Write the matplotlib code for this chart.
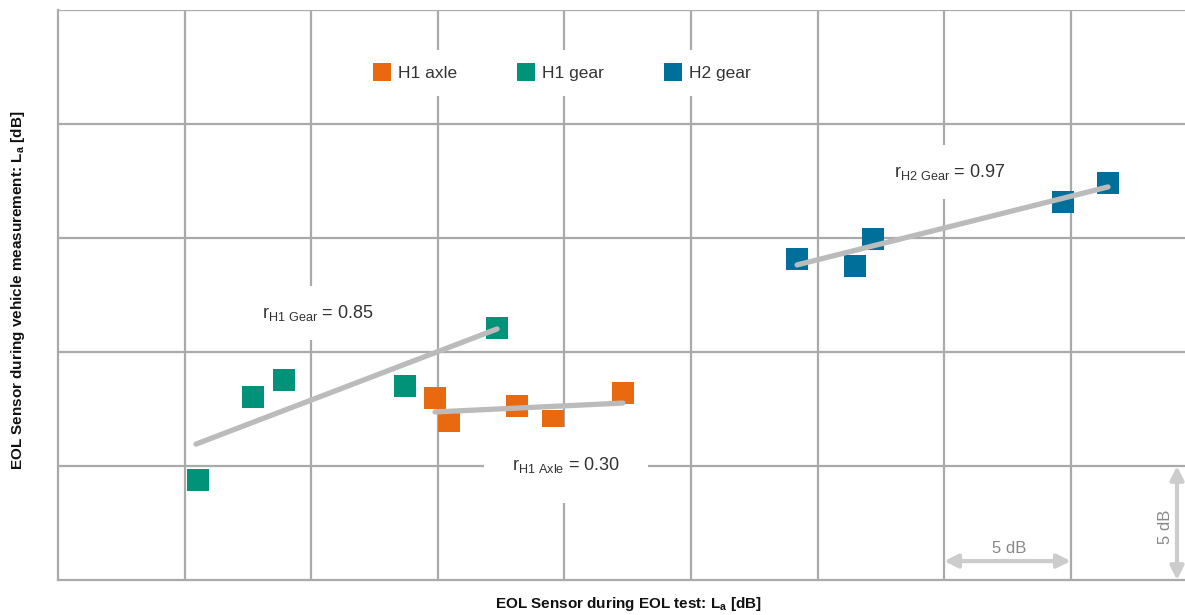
import matplotlib
matplotlib.use("Agg")
import matplotlib.pyplot as plt
from matplotlib.lines import Line2D

plt.rcParams['font.family'] = ['Liberation Sans', 'DejaVu Sans']

# Data in dB (relative)
axle_x = [14.89, 15.44, 18.13, 19.55, 22.31]
axle_y = [7.98, 6.97, 7.63, 6.97, 8.20]
h1gear_x = [5.53, 7.70, 8.93, 13.70, 17.34]
h1gear_y = [4.39, 8.03, 8.77, 8.51, 11.05]
h2gear_x = [29.19, 31.48, 32.19, 39.69, 41.47]
h2gear_y = [14.08, 13.77, 14.96, 16.58, 17.41]

# regression line end points
fit_axle_x = [14.89, 22.31]
fit_axle_y = [7.37, 7.76]
fit_h1_x = [5.45, 17.34]
fit_h1_y = [5.96, 11.01]
fit_h2_x = [29.19, 41.47]
fit_h2_y = [13.82, 17.24]

labels = ["H1 axle", "H1 gear", "H2 gear"]
colors = ["#E8690F", "#00937A", "#006F9A"]

W, H = 1185, 615
fig = plt.figure(figsize=(W / 100, H / 100), dpi=100)
ax = fig.add_axes([58 / W, 1 - 580 / H, (W - 58) / W, 570 / H])
xmax = (W - 58) / 126.6 * 5
ax.set_xlim(0, xmax)
ax.set_ylim(0, 25)

grid_c = "#AAAAAA"
for gx in range(5, int(xmax) + 1, 5):
    ax.axvline(gx, color=grid_c, lw=1.6, zorder=1)
for gy in range(5, 26, 5):
    ax.axhline(gy, color=grid_c, lw=1.6, zorder=1)
for s in ["top", "right"]:
    ax.spines[s].set_visible(False)
for s in ["left", "bottom"]:
    ax.spines[s].set_color(grid_c)
    ax.spines[s].set_linewidth(1.6)
ax.set_xticks([])
ax.set_yticks([])

fit_c = "#BBBBBB"
for fx, fy in [(fit_h1_x, fit_h1_y), (fit_axle_x, fit_axle_y), (fit_h2_x, fit_h2_y)]:
    ax.plot(fx, fy, color=fit_c, lw=3.8, solid_capstyle="round", zorder=3)

ms = 16
for xs, ys, c in [(axle_x, axle_y, colors[0]), (h1gear_x, h1gear_y, colors[1]), (h2gear_x, h2gear_y, colors[2])]:
    ax.plot(xs, ys, ls="none", marker="s", ms=ms, mfc=c, mec=c, mew=0, zorder=2)

# annotations with white background
box = dict(facecolor="white", edgecolor="none", pad=12)
ax.text((318 - 58) / 126.6 * 5, (580 - 313) / 114 * 5, r"r$_{\mathregular{H1\ Gear}}$ = 0.85",
        ha="center", va="center", fontsize=13, color="#333333", bbox=box, zorder=4)
ax.text((566 - 58) / 126.6 * 5, (580 - 465) / 114 * 5, r"r$_{\mathregular{H1\ Axle}}$ = 0.30",
        ha="center", va="center", fontsize=13, color="#333333",
        bbox=dict(facecolor="white", edgecolor="none", pad=20), zorder=4)
ax.text((950 - 58) / 126.6 * 5, (580 - 172) / 114 * 5, r"r$_{\mathregular{H2\ Gear}}$ = 0.97",
        ha="center", va="center", fontsize=13, color="#333333", bbox=box, zorder=4)

# scale arrows
sc = "#CCCCCC"
ax.annotate("", xy=(35, 0.83), xytext=(40, 0.83),
            arrowprops=dict(arrowstyle="<|-|>,head_length=0.8,head_width=0.4", color=sc, lw=3, shrinkA=0, shrinkB=0),
            zorder=4)
ax.text(37.55, 1.4, "5 dB", ha="center", va="center", fontsize=12, color="#888888", zorder=4)
xv = (1177 - 58) / 126.6 * 5
ax.annotate("", xy=(xv, 0), xytext=(xv, 5),
            arrowprops=dict(arrowstyle="<|-|>,head_length=0.8,head_width=0.4", color=sc, lw=3, shrinkA=0, shrinkB=0),
            zorder=4, annotation_clip=False)
ax.text((1166 - 58) / 126.6 * 5, (580 - 527) / 114 * 5, "5 dB", ha="center", va="center",
        rotation=90, fontsize=12, color="#888888", zorder=4)

# legend
handles = [Line2D([], [], ls="none", marker="s", ms=12.5, mfc=c, mec=c, mew=0) for c in colors]
leg = ax.legend(handles, labels, loc="center", bbox_to_anchor=((563 - 58) / (W - 58), 1 - (73 - 10) / 570),
                ncol=3, frameon=True, fontsize=12.5, handletextpad=0.5, columnspacing=3.6,
                handlelength=0.8, borderpad=0.9)
leg.get_frame().set_edgecolor("none")
leg.get_frame().set_facecolor("white")
leg.get_frame().set_alpha(1)
leg.set_zorder(5)
for t in leg.get_texts():
    t.set_color("#333333")

fig.text(628 / W, 1 - 604 / H, r"EOL Sensor during EOL test: L$_{\mathregular{a}}$ [dB]",
         ha="center", va="center", fontsize=11, fontweight="bold", color="#111111")
fig.text(18 / W, 1 - 290 / H, r"EOL Sensor during vehicle measurement: L$_{\mathregular{a}}$ [dB]",
         ha="center", va="center", rotation=90, fontsize=11, fontweight="bold", color="#111111")

fig.savefig("out.png", dpi=100)
